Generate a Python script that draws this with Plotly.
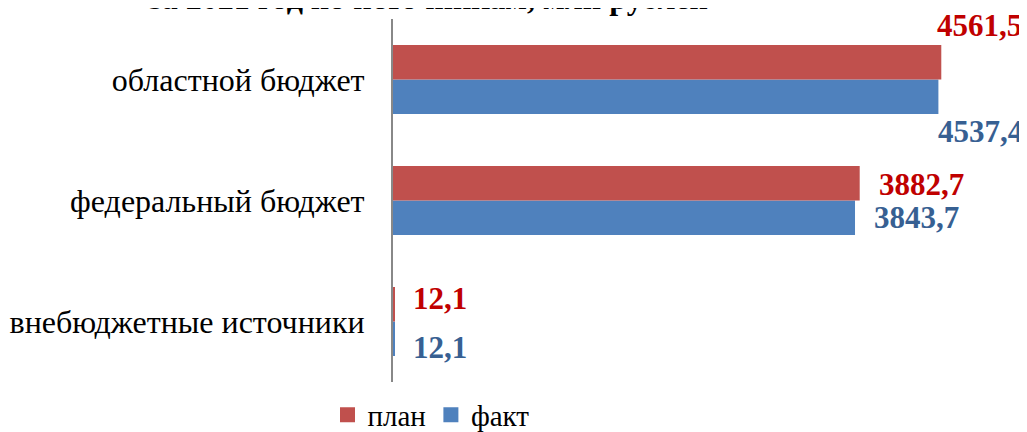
import plotly.graph_objects as go

# categories top to bottom
categories = ["областной бюджет", "федеральный бюджет", "внебюджетные источники"]
plan = [4561.5, 3882.7, 12.1]
fact = [4537.4, 3843.7, 12.1]
plan_labels = ["4561,5", "3882,7", "12,1"]
fact_labels = ["4537,4", "3843,7", "12,1"]
title_text = "за 2021 год по источникам, млн рублей"

serif = "Liberation Serif, Times New Roman, serif"
red, blue = "#C0504D", "#4F81BD"

# the page body adds an 8px offset, so the figure is a bit smaller than the window
W, H = 1019, 424

fig = go.Figure()
# факт first so it sits at the bottom of each group
fig.add_trace(go.Bar(y=categories, x=fact, orientation="h", name="факт",
                     marker=dict(color=blue, line=dict(width=0)), showlegend=False))
fig.add_trace(go.Bar(y=categories, x=plan, orientation="h", name="план",
                     marker=dict(color=red, line=dict(width=0)), showlegend=False))
# legend-only entries with bigger square keys
fig.add_trace(go.Scatter(x=[None], y=[None], mode="markers", name="план",
                         marker=dict(symbol="square", size=15, color=red)))
fig.add_trace(go.Scatter(x=[None], y=[None], mode="markers", name="факт",
                         marker=dict(symbol="square", size=15, color=blue)))

# label placement per category (first group labels sit above/below the bars)
plan_pos = [(-6, 54), (17, 16), (17, 23)]
fact_pos = [(-2, -52), (17, -17), (17, -26)]

for i, cat in enumerate(categories):
    fig.add_annotation(x=plan[i], y=cat, text=plan_labels[i], showarrow=False,
                       xanchor="left", yanchor="middle",
                       xshift=plan_pos[i][0], yshift=plan_pos[i][1],
                       font=dict(family=serif, size=31, color="#C00000", weight="bold"))
    fig.add_annotation(x=fact[i], y=cat, text=fact_labels[i], showarrow=False,
                       xanchor="left", yanchor="middle",
                       xshift=fact_pos[i][0], yshift=fact_pos[i][1],
                       font=dict(family=serif, size=31, color="#376092", weight="bold"))

fig.update_layout(
    width=W, height=H,
    margin=dict(l=385, r=33, t=11, b=50),
    paper_bgcolor="white", plot_bgcolor="white",
    barmode="group", bargap=0.43, bargroupgap=0,
    # title line, partly cut off by the top edge like in the source
    title=dict(text="<b>" + title_text + "</b>", xref="container", yref="container",
               x=420.5 / W, xanchor="center", y=1 - 1 / H, yanchor="bottom",
               font=dict(family=serif, size=32, color="black")),
    showlegend=True,
    legend=dict(orientation="h",
                xref="container", yref="container",
                x=423 / W, xanchor="center",
                y=1 - 407 / H, yanchor="middle",
                font=dict(family=serif, size=29, color="black")),
    font=dict(family=serif, color="black"),
)
fig.update_xaxes(range=[0, 5000], visible=False, showgrid=False, zeroline=False)
fig.update_yaxes(categoryorder="array", categoryarray=categories[::-1],
                 range=[-0.5, len(categories) - 0.5],
                 showline=True, linecolor="#888888", linewidth=2, automargin=False,
                 ticks="", showgrid=False, ticklabelstandoff=20,
                 tickfont=dict(family=serif, size=32, color="black"))

fig.write_html("out.html")
